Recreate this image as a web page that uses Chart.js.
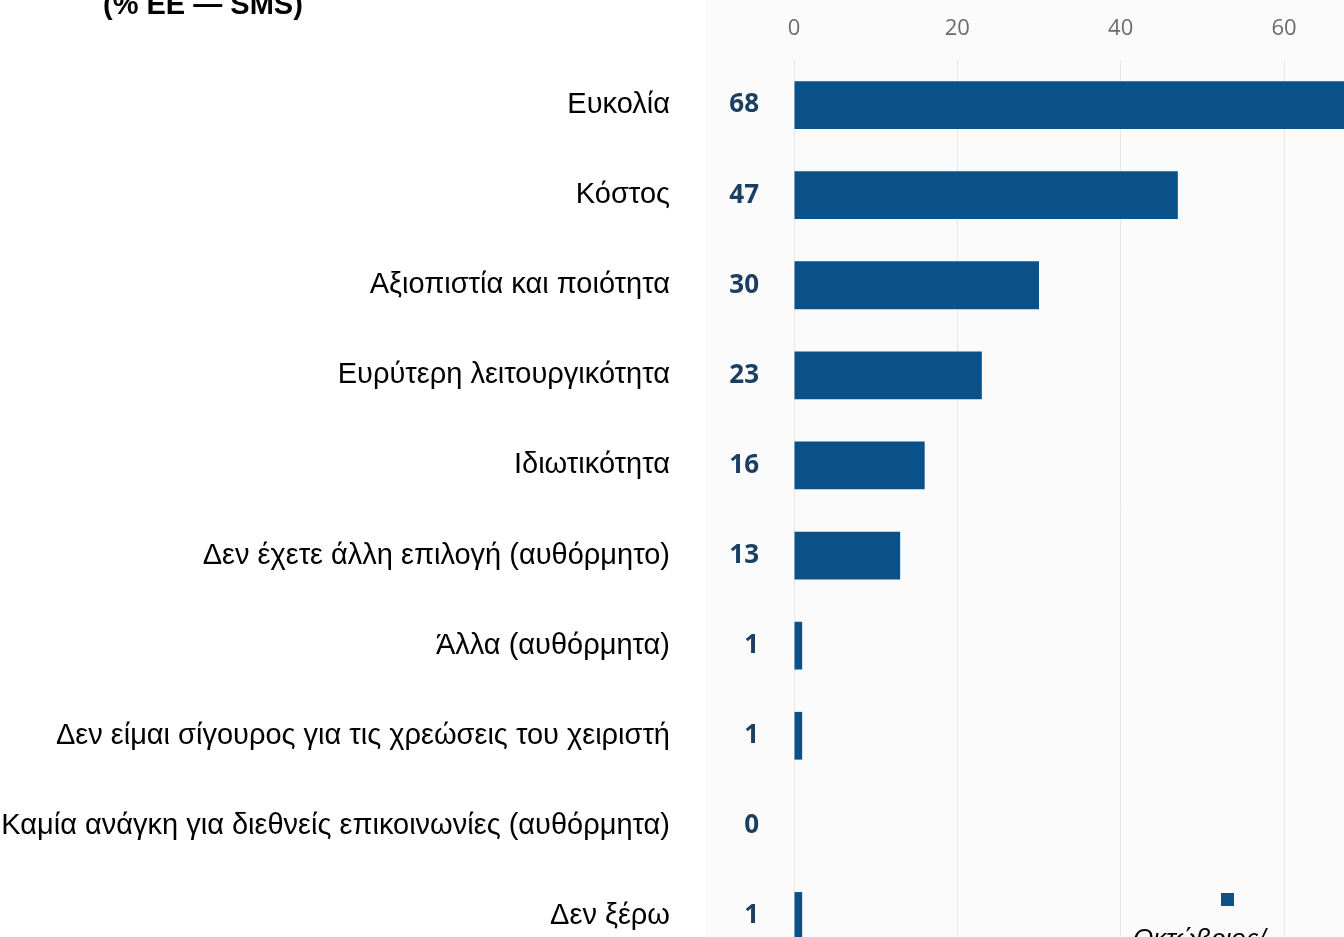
<!DOCTYPE html>
<html>
<head>
<meta charset="utf-8">
<script src="https://cdn.jsdelivr.net/npm/chart.js@4"></script>
<style>
  html, body { margin: 0; padding: 0; background: #fff; overflow: hidden; width: 1344px; height: 937px; }
  #panel { position: absolute; left: 705px; top: 0; width: 639px; height: 937px; background: #fbfbfb; }
  #wrap { position: absolute; left: 0; top: 0; }
  #title { position: absolute; left: 103px; top: -10px; font: bold 29px "Liberation Sans", Arial, sans-serif; line-height: 28px; color: #000; white-space: nowrap; }
  #legSwatch { position: absolute; left: 1221px; top: 893px; width: 13px; height: 13px; background: #0b5189; }
  #legText { position: absolute; left: 1133px; top: 925px; font: italic 26px "Liberation Sans", Arial, sans-serif; line-height: 26px; color: #000; white-space: nowrap; }
</style>
</head>
<body>
<div id="panel"></div>
<div id="wrap"><canvas id="myChart" width="1382" height="961"></canvas></div>
<div id="title">(% ΕΕ — SMS)</div>
<div id="legSwatch"></div>
<div id="legText">Οκτώβριος/</div>
<script>
const categories = [
    'Ευκολία',
    'Κόστος',
    'Αξιοπιστία και ποιότητα',
    'Ευρύτερη λειτουργικότητα',
    'Ιδιωτικότητα',
    'Δεν έχετε άλλη επιλογή (αυθόρμητο)',
    'Άλλα (αυθόρμητα)',
    'Δεν είμαι σίγουρος για τις χρεώσεις του χειριστή',
    'Καμία ανάγκη για διεθνείς επικοινωνίες (αυθόρμητα)',
    'Δεν ξέρω'
];
const values = [68, 47, 30, 23, 16, 13, 1, 1, 0, 1];
const valueLabels = values.map(String);
const seriesName = 'Οκτώβριος/';

document.addEventListener("DOMContentLoaded", function () {
    const myChart = document.getElementById('myChart');

    // the y axes get a fixed width and no extra top/bottom padding
    function fixAxis(w) {
        return function (scale) {
            scale.width = w;
            scale.paddingTop = 0;
            scale.paddingBottom = 0;
        };
    }

    new Chart(myChart, {
        type: 'bar',
        data: {
            labels: categories,
            datasets: [{
                label: seriesName,
                data: values,
                backgroundColor: '#0b5189',
                borderWidth: 0,
                categoryPercentage: 1,
                barPercentage: 0.53
            }]
        },
        options: {
            indexAxis: 'y',
            responsive: false,
            animation: false,
            layout: { padding: 0 },
            plugins: {
                legend: { display: false },
                tooltip: { enabled: false }
            },
            scales: {
                x: {
                    position: 'top',
                    min: 0,
                    max: 72,
                    grid: { color: '#e6e6e6', drawTicks: false },
                    border: { display: false },
                    ticks: {
                        stepSize: 20,
                        includeBounds: false,
                        padding: 18,
                        color: '#6b6b6b',
                        font: { family: 'Open Sans', size: 22 }
                    },
                    afterFit: function (scale) { scale.height = 60; }
                },
                y: {
                    position: 'left',
                    weight: 1,
                    grid: { display: false, drawTicks: false },
                    border: { display: false },
                    ticks: {
                        padding: 44,
                        color: '#000',
                        font: { family: 'Liberation Sans', size: 29 }
                    },
                    afterFit: fixAxis(714)
                },
                yv: {
                    type: 'category',
                    labels: valueLabels,
                    position: 'left',
                    weight: 0,
                    offset: true,
                    grid: { display: false, drawTicks: false },
                    border: { display: false },
                    ticks: {
                        padding: 35,
                        color: '#1b3f63',
                        font: { family: 'Open Sans', size: 26, weight: 'bold' }
                    },
                    afterFit: fixAxis(80)
                }
            }
        }
    });
});
</script>
</body>
</html>
